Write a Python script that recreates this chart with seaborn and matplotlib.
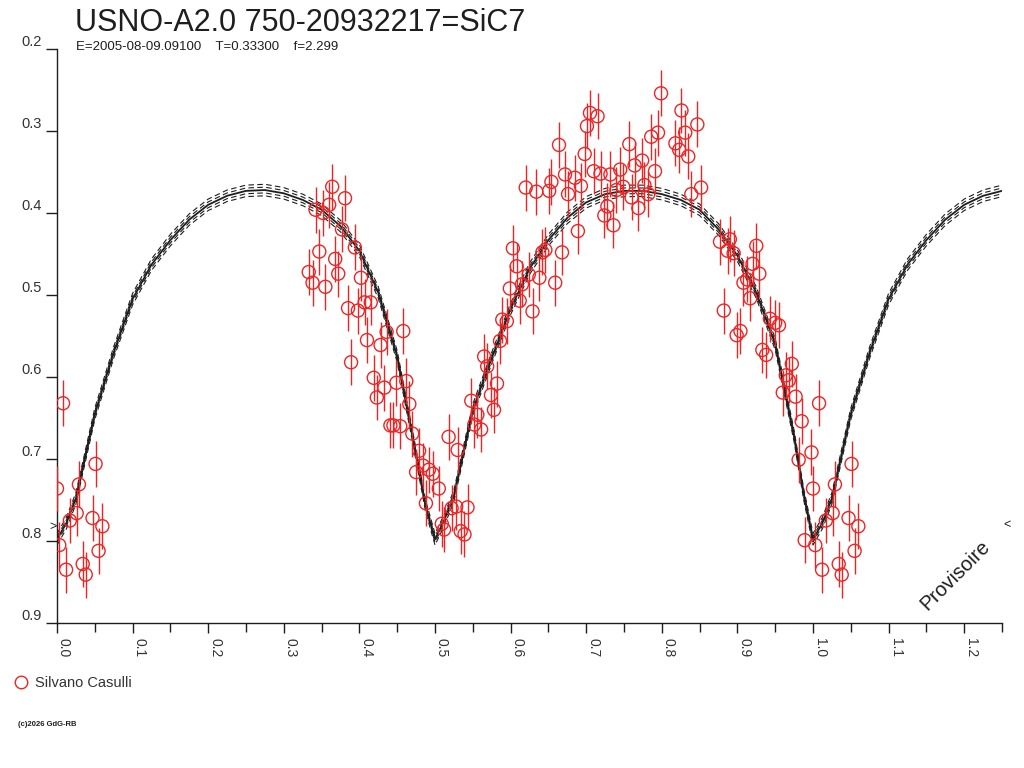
import numpy as np
import pandas as pd
import matplotlib
matplotlib.use("Agg")
import matplotlib.pyplot as plt
import seaborn as sns
from matplotlib.ticker import MultipleLocator

# ---------------- data ----------------
title = "USNO-A2.0 750-20932217=SiC7"
subtitle = "E=2005-08-09.09100    T=0.33300    f=2.299"
observer = "Silvano Casulli"
watermark = "Provisoire"
credit = "(c)2026 GdG-RB"

x_ticks = [0.0, 0.1, 0.2, 0.3, 0.4, 0.5, 0.6, 0.7, 0.8, 0.9, 1.0, 1.1, 1.2]
x_tick_labels = ["0.0", "0.1", "0.2", "0.3", "0.4", "0.5", "0.6", "0.7", "0.8", "0.9", "1.0", "1.1", "1.2"]
y_ticks = [0.2, 0.3, 0.4, 0.5, 0.6, 0.7, 0.8, 0.9]
y_tick_labels = ["0.2", "0.3", "0.4", "0.5", "0.6", "0.7", "0.8", "0.9"]

# model light curve (phase, magnitude)
model_phase = [0.0, 0.0125, 0.025, 0.05, 0.075, 0.1, 0.125, 0.15, 0.175, 0.2, 0.225, 0.25,
               0.275, 0.3, 0.325, 0.35, 0.375, 0.4, 0.425, 0.45, 0.475, 0.4875, 0.5,
               0.5125, 0.525, 0.55, 0.575, 0.6, 0.625, 0.65, 0.675, 0.7, 0.725, 0.75,
               0.775, 0.8, 0.825, 0.85, 0.875, 0.9, 0.925, 0.95, 0.975, 0.9875, 1.0,
               1.0125, 1.025, 1.05, 1.075, 1.1, 1.125, 1.15, 1.175, 1.2, 1.225, 1.25]
model_mag = [0.798, 0.778, 0.748, 0.645, 0.570, 0.505, 0.463, 0.433, 0.408, 0.390, 0.379, 0.373,
             0.372, 0.376, 0.384, 0.396, 0.416, 0.446, 0.497, 0.575, 0.695, 0.757, 0.798,
             0.774, 0.745, 0.640, 0.577, 0.517, 0.468, 0.433, 0.406, 0.387, 0.377, 0.373,
             0.373, 0.377, 0.384, 0.396, 0.420, 0.452, 0.497, 0.560, 0.672, 0.742, 0.798,
             0.778, 0.748, 0.645, 0.570, 0.505, 0.463, 0.433, 0.408, 0.390, 0.379, 0.373]
band_offsets = [-0.007, -0.0035, 0.0035, 0.007]

# observations (phase, magnitude); points near phase 0 are also shown at phase + 1
obs_phase = [
    0.000, 0.003, 0.008, 0.012, 0.017, 0.026, 0.029, 0.034, 0.038, 0.047, 0.051, 0.055, 0.060,
    0.364, 0.381, 0.360, 0.342, 0.352, 0.377, 0.394, 0.347, 0.368, 0.333, 0.372, 0.338, 0.355,
    0.402, 0.385, 0.398, 0.407, 0.415, 0.458, 0.436, 0.410, 0.428, 0.389, 0.419, 0.449, 0.462,
    0.433, 0.423, 0.466,
    0.441, 0.445, 0.454, 0.470, 0.479, 0.484, 0.475, 0.492, 0.497, 0.505, 0.488, 0.509, 0.512,
    0.518, 0.530, 0.522, 0.528, 0.543, 0.534, 0.539, 0.548, 0.556, 0.552, 0.561, 0.574, 0.582,
    0.578,
    0.799, 0.826, 0.847, 0.705, 0.715, 0.701, 0.664, 0.698, 0.757, 0.786, 0.795, 0.818, 0.823,
    0.831, 0.835, 0.774, 0.764, 0.791, 0.710, 0.719, 0.745, 0.732, 0.672, 0.685, 0.654, 0.693,
    0.620, 0.634, 0.651, 0.676, 0.740, 0.749, 0.777, 0.782, 0.852, 0.839, 0.760, 0.728, 0.769,
    0.724, 0.736, 0.689, 0.603, 0.646, 0.668, 0.642, 0.608, 0.624, 0.638, 0.615, 0.659, 0.599,
    0.612, 0.629, 0.589, 0.595, 0.586, 0.565, 0.569,
    0.877, 0.887, 0.890, 0.895, 0.925, 0.920, 0.929, 0.908, 0.913, 0.917, 0.882, 0.904, 0.899,
    0.943, 0.950, 0.955, 0.933, 0.938, 0.972, 0.964, 0.968, 0.960, 0.977, 0.985, 0.998, 0.981,
    0.989]
obs_mag = [
    0.736, 0.805, 0.632, 0.835, 0.775, 0.766, 0.731, 0.828, 0.841, 0.772, 0.706, 0.812, 0.782,
    0.368, 0.382, 0.390, 0.396, 0.400, 0.420, 0.442, 0.447, 0.456, 0.472, 0.474, 0.485, 0.490,
    0.479, 0.516, 0.519, 0.509, 0.509, 0.544, 0.545, 0.555, 0.561, 0.582, 0.601, 0.607, 0.605,
    0.613, 0.625, 0.633,
    0.659, 0.659, 0.660, 0.669, 0.690, 0.708, 0.716, 0.713, 0.718, 0.736, 0.754, 0.779, 0.786,
    0.673, 0.689, 0.760, 0.758, 0.759, 0.788, 0.792, 0.629, 0.646, 0.658, 0.664, 0.622, 0.608,
    0.640,
    0.254, 0.275, 0.292, 0.278, 0.282, 0.294, 0.317, 0.328, 0.316, 0.307, 0.302, 0.315, 0.323,
    0.302, 0.331, 0.336, 0.342, 0.349, 0.349, 0.352, 0.347, 0.353, 0.353, 0.357, 0.362, 0.367,
    0.369, 0.374, 0.373, 0.377, 0.372, 0.368, 0.366, 0.377, 0.369, 0.377, 0.381, 0.392, 0.394,
    0.403, 0.415, 0.422, 0.443, 0.445, 0.448, 0.448, 0.465, 0.475, 0.479, 0.487, 0.485, 0.492,
    0.507, 0.520, 0.530, 0.532, 0.556, 0.575, 0.587,
    0.435, 0.446, 0.432, 0.449, 0.440, 0.462, 0.474, 0.485, 0.481, 0.504, 0.519, 0.544, 0.549,
    0.529, 0.534, 0.537, 0.567, 0.573, 0.584, 0.598, 0.604, 0.619, 0.624, 0.654, 0.692, 0.701,
    0.799]
obs_err = 0.028
wrap_limit = 0.07

# ---------------- styling ----------------
RED = "#ee2424"
INK = "#1e1e1e"
sns.set_theme(style="white")
plt.rcParams["font.family"] = ["Liberation Sans", "DejaVu Sans"]

fig = plt.figure(figsize=(10.24, 7.68), dpi=100)
W, H = 1024.0, 768.0
ax = fig.add_axes([57 / W, 1 - 623 / H, (1002 - 57) / W, (623 - 49) / H])

obs = pd.DataFrame({"phase": obs_phase, "mag": obs_mag})
wrapped = obs[obs["phase"] < wrap_limit].assign(phase=lambda d: d["phase"] + 1.0)
obs_all = pd.concat([obs, wrapped], ignore_index=True)

model = pd.DataFrame({"phase": model_phase, "mag": model_mag})

# model band (dashed) and model (solid)
for off in band_offsets:
    sns.lineplot(x=model["phase"], y=model["mag"] + off, ax=ax, color=INK,
                 lw=0.8, linestyle=(0, (5, 3)), estimator=None, sort=False)
sns.lineplot(data=model, x="phase", y="mag", ax=ax, color=INK, lw=1.3,
             estimator=None, sort=False)

# error bars and points
ax.vlines(obs_all["phase"], obs_all["mag"] - obs_err, obs_all["mag"] + obs_err,
          color=RED, lw=1.0, zorder=3)
sns.scatterplot(data=obs_all, x="phase", y="mag", ax=ax, marker="o", s=88,
                facecolors="none", edgecolors=RED, linewidth=1.0, zorder=4,
                label=observer, legend=False)

# axes
ax.set_xlim(0.0, 1.25)
ax.set_ylim(0.9, 0.2)
ax.set_xlabel("")
ax.set_ylabel("")
for s in ["top", "right"]:
    ax.spines[s].set_visible(False)
for s in ["left", "bottom"]:
    ax.spines[s].set_color(INK)
    ax.spines[s].set_linewidth(1.0)

ax.set_xticks(x_ticks)
ax.set_xticklabels(x_tick_labels, rotation=-90, ha="left", va="top", fontsize=10, color="#333333")
ax.xaxis.set_minor_locator(MultipleLocator(0.05))
ax.tick_params(axis="x", which="major", direction="out", length=7.5, width=1.0, color=INK, pad=3, bottom=True)
ax.tick_params(axis="x", which="minor", direction="out", length=6.5, width=1.0, color=INK, bottom=True)

ax.set_yticks(y_ticks)
ax.set_yticklabels(y_tick_labels, fontsize=10.5, color="#333333")
for t in ax.get_yticklabels():
    t.set_verticalalignment("bottom")
ax.tick_params(axis="y", which="major", direction="out", length=8, width=1.0, color=INK, pad=3, left=True)
ax.grid(False)

# texts
fig.text(75 / W, 1 - 8 / H, title, fontsize=22, color=INK, ha="left", va="top")
fig.text(76 / W, 1 - 41 / H, subtitle, fontsize=9.5, color=INK, ha="left", va="top")
fig.text(955 / W, 1 - 575 / H, watermark, fontsize=14.5, rotation=45, color=INK,
         ha="center", va="center")
fig.text(53 / W, 1 - 527 / H, ">", fontsize=9, color=INK, ha="center", va="center")
fig.text(1007 / W, 1 - 525 / H, "<", fontsize=9, color=INK, ha="center", va="center")
fig.text(18 / W, 1 - 725 / H, credit, fontsize=5.5, fontweight="bold", color=INK,
         ha="left", va="center")

# legend
handle = plt.Line2D([], [], marker="o", ls="none", markersize=9,
                    markerfacecolor="none", markeredgecolor=RED, markeredgewidth=1.0)
fig.legend([handle], [observer], loc="center left", bbox_to_anchor=(14 / W, 1 - 683 / H),
           bbox_transform=fig.transFigure, frameon=False, borderpad=0, borderaxespad=0,
           handlelength=1.0, handletextpad=0.45, fontsize=10.5, labelcolor="#333333")

fig.savefig("out.png", dpi=100, facecolor="white")
